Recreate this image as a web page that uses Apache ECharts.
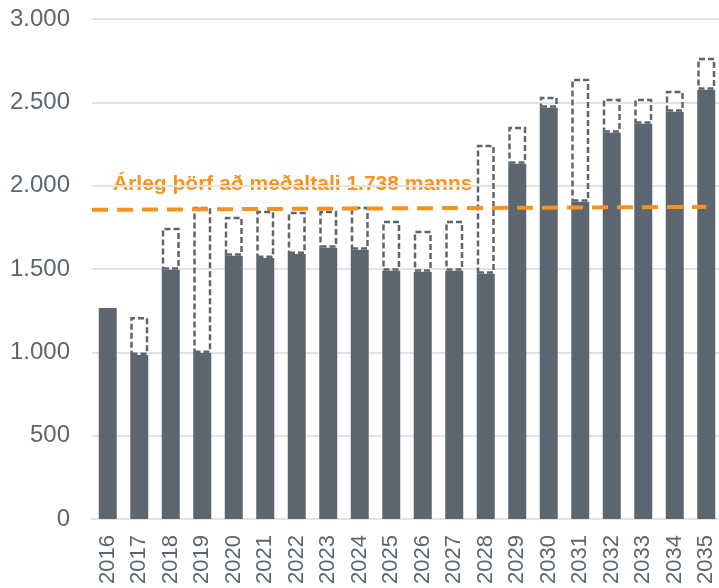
<!DOCTYPE html>
<html lang="is">
<head>
<meta charset="UTF-8">
<title>Árleg þörf</title>
<script src="https://cdn.jsdelivr.net/npm/echarts@6/dist/echarts.min.js"></script>
<style>
  html, body { margin: 0; padding: 0; background: #fff; }
  #main { width: 719px; height: 588px; }
</style>
</head>
<body>
<div id="main"></div>
<script>
// ár
var years = ['2016','2017','2018','2019','2020','2021','2022','2023','2024','2025',
             '2026','2027','2028','2029','2030','2031','2032','2033','2034','2035'];
// fullbúnar íbúðir (dökkar súlur)
var built = [1266, 984, 1495, 996, 1579, 1566, 1590, 1627, 1615, 1489,
             1483, 1489, 1471, 2131, 2467, 1903, 2317, 2371, 2443, 2575];
// toppur á brotnu súlunum (heildarþörf)
var need = [null, 1212, 1747, 1873, 1813, 1849, 1843, 1849, 1873, 1789,
            1729, 1789, 2245, 2353, 2533, 2641, 2521, 2521, 2569, 2767];
// meðaltalslína
var avgLine = [[0, 1855], [19.5, 1873]];
var yTicks = [0, 500, 1000, 1500, 2000, 2500, 3000];

var gap = need.map(function (v, i) { return v == null ? null : v - built[i]; });

var grey = '#5c6670';
var orange = '#f7921e';

var chart = echarts.init(document.getElementById('main'));
chart.setOption({
  animation: false,
  grid: { left: 92, right: -3, top: 19, bottom: 69, outerBoundsMode: 'none', containLabel: false },
  xAxis: [{
    type: 'category',
    data: years,
    axisLine: { lineStyle: { color: '#e3e3e3', width: 2 } },
    axisTick: { show: false },
    axisLabel: { rotate: 90, margin: 16, fontSize: 22, color: grey, fontFamily: 'Liberation Sans' }
  }, {
    type: 'value', min: 0, max: 20, show: false
  }],
  yAxis: {
    type: 'value',
    min: 0, max: 3000, interval: 500,
    axisLine: { show: false },
    axisTick: { show: false },
    splitLine: { lineStyle: { color: '#e3e3e3', width: 2 } },
    axisLabel: {
      margin: 22, fontSize: 24, color: grey, fontFamily: 'Liberation Sans',
      formatter: function (v) { return yTicks.indexOf(v) < 0 ? '' : String(v).replace(/\B(?=(\d{3})+(?!\d))/g, '.'); }
    }
  },
  series: [{
    type: 'bar', stack: 'a', data: built, barWidth: 18,
    itemStyle: { color: grey }
  }, {
    type: 'bar', stack: 'a', data: gap, barWidth: 18,
    itemStyle: { color: 'rgba(255,255,255,0)', borderColor: grey, borderWidth: 2.5, borderType: [6, 3] }
  }, {
    type: 'line', xAxisIndex: 1, data: avgLine, symbol: 'none', z: 5,
    lineStyle: { color: orange, width: 4, type: [16, 9] }
  }],
  graphic: [{
    type: 'text', left: 113, top: 174,
    style: { text: 'Árleg þörf að meðaltali 1.738 manns', fill: orange,
             font: 'bold 21px "Liberation Sans", Arial, sans-serif' }
  }]
});
</script>
</body>
</html>
